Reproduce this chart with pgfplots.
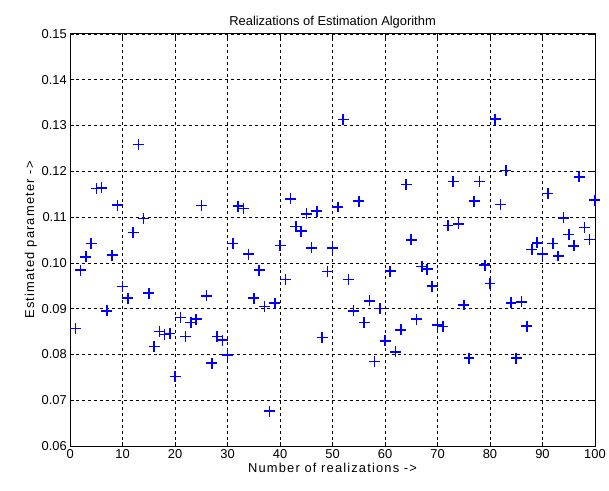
\documentclass[border=0pt]{standalone}
\usepackage{fontspec}
\setmainfont{Liberation Sans}
\newfontfamily\labelfont[LetterSpace=9]{Liberation Sans}
\usepackage{pgfplots}
\pgfplotsset{compat=1.18}

\begin{document}
\begin{tikzpicture}
\begin{axis}[
  scale only axis,
  width=527bp, height=414bp,
  xmin=0, xmax=100, ymin=0.06, ymax=0.15,
  xtick={0,10,...,100},
  ytick={0.06,0.07,0.08,0.09,0.10,0.11,0.12,0.13,0.14,0.15},
  scaled y ticks=false,
  yticklabel style={/pgf/number format/.cd, fixed, fixed zerofill, precision=2},
  /pgf/number format/assume math mode=true,
  tick align=inside,
  major tick length=4bp,
  grid=major,
  grid style={black, dashed, line width=0.6pt},
  axis line style={black, line width=0.8pt},
  tick style={black, line width=0.6pt},
  tick label style={font=\fontsize{13}{15}\selectfont},
  label style={font=\fontsize{13}{15}\selectfont\labelfont},
  title style={font=\fontsize{13}{15}\selectfont, yshift=-4bp},
  title={Realizations of Estimation Algorithm},
  xlabel={Number of realizations ->},
  ylabel={Estimated parameter ->},
  ylabel style={yshift=-2bp},
  xlabel style={yshift=2bp},
]
\addplot[scatter, only marks, mark=+, mark size=5.5bp,
  scatter/use mapped color={draw=blue, fill=blue},
  mark options={line width=1.6bp}]
table{
x y
1 0.0857
2 0.0984
3 0.1013
4 0.1042
5 0.1162
6 0.1164
7 0.0895
8 0.1017
9 0.1126
10 0.0948
11 0.0923
12 0.1066
13 0.1258
14 0.1097
15 0.0934
16 0.0817
17 0.0850
18 0.0844
19 0.0846
20 0.0752
21 0.0881
22 0.0839
23 0.0870
24 0.0877
25 0.1125
26 0.0928
27 0.0781
28 0.0839
29 0.0831
30 0.0799
31 0.1042
32 0.1124
33 0.1119
34 0.1019
35 0.0923
36 0.0984
37 0.0905
38 0.0676
39 0.0912
40 0.1038
41 0.0964
42 0.1140
43 0.1079
44 0.1069
45 0.1107
46 0.1033
47 0.1113
48 0.0837
49 0.0981
50 0.1033
51 0.1122
52 0.1313
53 0.0964
54 0.0895
55 0.1135
56 0.0870
57 0.0917
58 0.0785
59 0.0900
60 0.0830
61 0.0982
62 0.0806
63 0.0854
64 0.1171
65 0.1050
66 0.0877
67 0.0992
68 0.0986
69 0.0949
70 0.0864
71 0.0861
72 0.1082
73 0.1178
74 0.1085
75 0.0908
76 0.0792
77 0.1135
78 0.1178
79 0.0995
80 0.0955
81 0.1314
82 0.1127
83 0.1202
84 0.0913
85 0.0792
86 0.0915
87 0.0862
88 0.1029
89 0.1044
90 0.1019
91 0.1151
92 0.1042
93 0.1015
94 0.1098
95 0.1062
96 0.1037
97 0.1188
98 0.1077
99 0.1051
100 0.1137
};
\end{axis}
\path (current axis.south west) ++(-70.5bp,-45bp);
\path (current axis.north east) ++(11bp,34bp);
\end{tikzpicture}
\end{document}
